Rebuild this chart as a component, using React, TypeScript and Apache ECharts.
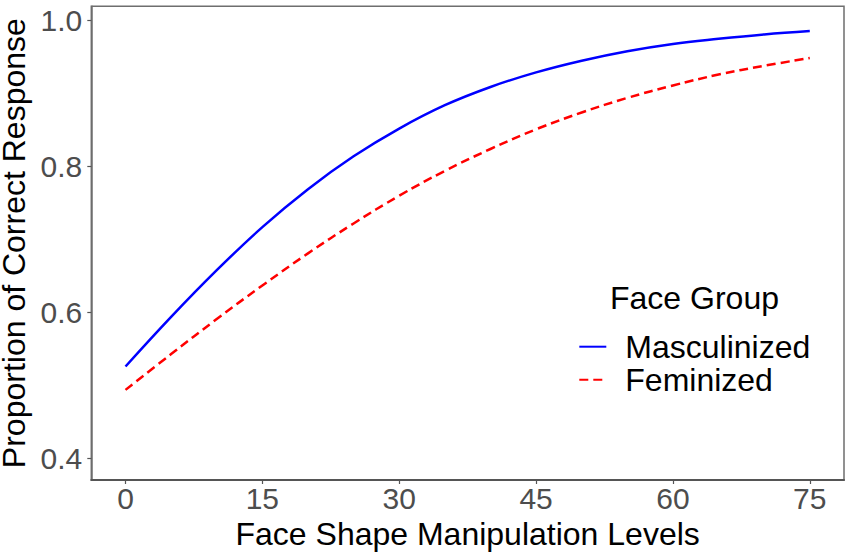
import React, { useEffect, useRef } from "react";
import * as echarts from "echarts";

const manipulationLevels = [0, 5, 10, 15, 20, 25, 30, 35, 40, 45, 50, 55, 60, 65, 70, 75];
const masculinized = [0.526, 0.594, 0.658, 0.717, 0.769, 0.814, 0.852, 0.884, 0.909, 0.929, 0.945, 0.958, 0.968, 0.975, 0.981, 0.9856];
const feminized = [0.494, 0.543, 0.591, 0.637, 0.681, 0.722, 0.760, 0.794, 0.824, 0.851, 0.874, 0.894, 0.911, 0.926, 0.938, 0.9486];
const xTicks = [0, 15, 30, 45, 60, 75];
const yTicks = [0.4, 0.6, 0.8, 1.0];
const seriesNames = ["Masculinized", "Feminized"];
const legendTitle = "Face Group";
const xTitle = "Face Shape Manipulation Levels";
const yTitle = "Proportion of Correct Response";

const FONT = "'Liberation Sans', Arial, Helvetica, sans-serif";

export default function App() {
  const ref = useRef<HTMLDivElement>(null);
  useEffect(() => {
    if (!ref.current) return;
    const chart = echarts.init(ref.current, undefined, { renderer: "svg" });
    const zip = (vals: number[]) => manipulationLevels.map((x, i) => [x, vals[i]]);
    chart.setOption({
      animation: false,
      backgroundColor: "#ffffff",
      grid: {
        left: 91.3,
        right: 7,
        top: 6.3,
        bottom: 76,
        containLabel: false,
        outerBoundsMode: "none",
        show: true,
        borderColor: "#6e6e6e",
        borderWidth: 1.5,
      },
      xAxis: {
        type: "value",
        min: -3.75,
        max: 78.75,
        name: xTitle,
        nameLocation: "middle",
        nameGap: 34,
        nameTextStyle: { fontFamily: FONT, fontSize: 32, color: "#000000" },
        axisLine: { show: true, onZero: false, lineStyle: { color: "#555555", width: 2 } },
        axisTick: { show: true, length: 4, customValues: xTicks, lineStyle: { color: "#555555", width: 1.2 } },
        axisLabel: {
          customValues: xTicks,
          margin: 3.5,
          fontFamily: FONT,
          fontSize: 30,
          color: "#4d4d4d",
        },
        splitLine: { show: false },
      },
      yAxis: {
        type: "value",
        min: 0.3705,
        max: 1.0195,
        name: yTitle,
        nameLocation: "middle",
        nameGap: 57,
        nameTextStyle: { fontFamily: FONT, fontSize: 32, lineHeight: 24, color: "#000000" },
        axisLine: { show: true, onZero: false, lineStyle: { color: "#6e6e6e", width: 1.5 } },
        axisTick: { show: true, length: 4, customValues: yTicks, lineStyle: { color: "#555555", width: 1.2 } },
        axisLabel: {
          customValues: yTicks,
          margin: 9,
          fontFamily: FONT,
          fontSize: 30,
          color: "#4d4d4d",
          formatter: (v: number) => v.toFixed(1),
        },
        splitLine: { show: false },
      },
      legend: {
        orient: "vertical",
        left: 578.3,
        top: 330.7,
        padding: 0,
        itemGap: 1,
        itemWidth: 27,
        itemHeight: 14,
        data: seriesNames,
        itemStyle: { color: "rgba(0,0,0,0)", opacity: 0, borderWidth: 0 },
        textStyle: {
          fontFamily: FONT,
          fontSize: 32,
          color: "#000000",
          lineHeight: 30,
          padding: [0, 0, 0, 14],
        },
      },
      graphic: [
        {
          type: "text",
          left: 610,
          top: 282,
          style: {
            text: legendTitle,
            font: `32px ${FONT}`,
            fill: "#000000",
          },
        },
      ],
      series: [
        {
          name: seriesNames[0],
          type: "line",
          data: zip(masculinized),
          symbol: "none",
          smooth: 0.4,
          lineStyle: { color: "#0000ff", width: 2.5 },
          itemStyle: { color: "#0000ff" },
        },
        {
          name: seriesNames[1],
          type: "line",
          data: zip(feminized),
          symbol: "none",
          smooth: 0.4,
          lineStyle: { color: "#ff0000", width: 2.5, type: [9, 5] },
          itemStyle: { color: "#ff0000" },
        },
      ],
    });
    return () => chart.dispose();
  }, []);
  return (
    <div
      ref={ref}
      style={{ position: "absolute", left: 0, top: 0, width: 851, height: 556 }}
    />
  );
}
